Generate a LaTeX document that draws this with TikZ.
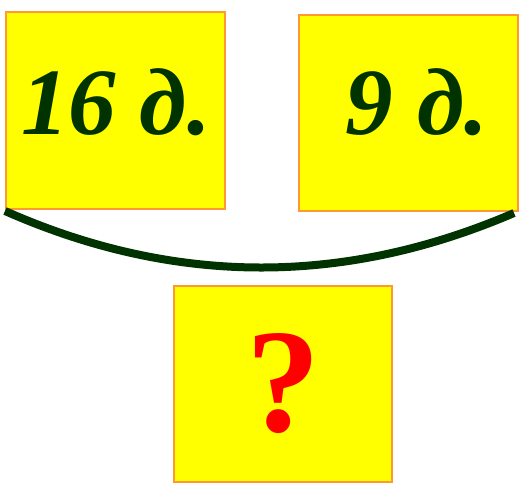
\documentclass[tikz,border=0pt]{standalone}
\usepackage{fontspec}
\setmainfont{Liberation Serif}
\definecolor{boxfill}{HTML}{FFFF00}
\definecolor{boxline}{HTML}{FF9933}
\definecolor{darkgr}{HTML}{003300}
\definecolor{qred}{HTML}{FF0000}
\begin{document}
\begin{tikzpicture}[x=1pt,y=-1pt,
  card/.style={draw=boxline, fill=boxfill, line width=2pt, inner sep=0pt, anchor=north west},
  lbl/.style={text=darkgr, font=\fontsize{95}{95}\selectfont\bfseries\itshape, inner sep=0pt, anchor=base},
  qm/.style={text=qred, font=\fontsize{148}{148}\selectfont\bfseries, inner sep=0pt, anchor=base},
  brace/.style={draw=darkgr, line width=8pt}]
\useasboundingbox (0,0) rectangle (519,484);
\node[card, minimum width=219pt, minimum height=197pt] (a) at (5,11) {};
\node[card, minimum width=219pt, minimum height=196pt] (b) at (297.5,14) {};
\node[card, minimum width=218pt, minimum height=196pt] (c) at (172.5,284.5) {};
\node[lbl] (ta) at (116,135) {16 д.};
\node[lbl] (tb) at (417,135) {9 д.};
\node[qm] (tc) at (283,431) {?};
\coordinate (l) at (5,211);
\coordinate (r) at (514,213);
\draw[brace] (l) .. controls (174.7,286) and (344.3,286) .. (r);
\end{tikzpicture}
\end{document}
